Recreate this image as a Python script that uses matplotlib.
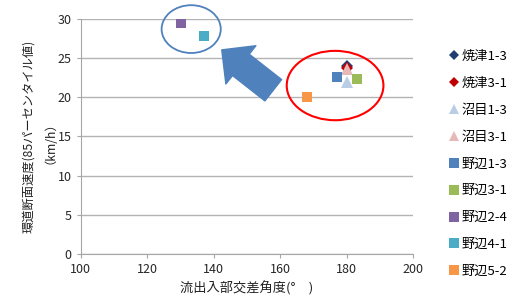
import matplotlib
matplotlib.use("Agg")
import matplotlib.pyplot as plt
from matplotlib.patches import Ellipse

plt.rcParams["font.family"] = ["Noto Sans CJK JP", "DejaVu Sans"]

# series (name, x = 流出入部交差角度, y = 85パーセンタイル速度)
names = ["焼津1-3", "焼津3-1", "沼目1-3", "沼目3-1", "野辺1-3", "野辺3-1", "野辺2-4", "野辺4-1", "野辺5-2"]
angle = [180.0, 180.0, 180.0, 180.0, 177.2, 183.2, 130.0, 137.0, 168.2]
speed = [24.0, 23.8, 22.0, 23.6, 22.6, 22.3, 29.5, 27.8, 20.0]
markers = ["D", "D", "^", "^", "s", "s", "s", "s", "s"]
colors = ["#1F3F73", "#C00000", "#B9CDE5", "#E6B9B8", "#4F81BD", "#9BBB59", "#8064A2", "#4BACC6", "#F79646"]
sizes = [6.0, 6.0, 8.5, 8.5, 7.7, 7.7, 7.7, 7.7, 7.7]

x_ticks = [100, 120, 140, 160, 180, 200]
y_ticks = [0, 5, 10, 15, 20, 25, 30]

fig = plt.figure(figsize=(5.25, 3.05), dpi=100)
ax = fig.add_axes([0.154, 0.167, 0.633, 0.771])

for n, x, y, m, c, s in zip(names, angle, speed, markers, colors, sizes):
    ax.plot([x], [y], linestyle="none", marker=m, color=c, markersize=s,
            markeredgewidth=0, label=n, zorder=3)

ax.set_xlim(100, 200)
ax.set_ylim(0, 30)
ax.set_xticks(x_ticks)
ax.set_yticks(y_ticks)
ax.tick_params(labelsize=9, labelcolor="#262626", length=3, color="#A6A6A6", width=0.8)
ax.grid(axis="y", color="#B3B3B3", linewidth=1.0)
ax.set_axisbelow(True)
for side in ["top", "right"]:
    ax.spines[side].set_visible(False)
for side in ["left", "bottom"]:
    ax.spines[side].set_color("#A6A6A6")
    ax.spines[side].set_linewidth(0.8)

ax.set_xlabel("流出入部交差角度(°\u3000)", fontsize=9.5, color="#202020", labelpad=4)
ax.set_ylabel("環道断面速度(85パーセンタイル値)\n（km/h）", fontsize=8.8,
              color="#202020", labelpad=5, linespacing=1.25)

# annotation: groups and arrow
ax.add_patch(Ellipse((133.2, 28.7), 17.8, 6.1, fill=False, edgecolor="#4F81BD",
                     linewidth=1.3, clip_on=False, zorder=4))
ax.add_patch(Ellipse((176.5, 21.5), 29.1, 8.85, fill=False, edgecolor="#FF0000",
                     linewidth=1.5, clip_on=False, zorder=4))
ax.annotate("", xy=(142.4, 26.05), xytext=(157.9, 20.9),
            arrowprops=dict(arrowstyle="simple,head_length=17.5,head_width=35,tail_width=19.5",
                            mutation_scale=1, color="#4F81BD", shrinkA=0, shrinkB=0),
            zorder=4)

ax.legend(loc="upper left", bbox_to_anchor=(1.096, 0.89), frameon=False, fontsize=9.5,
          handlelength=0.55, handletextpad=0.3, labelspacing=1.05, borderaxespad=0,
          markerscale=0.85)

fig.savefig("out.png", dpi=100)
